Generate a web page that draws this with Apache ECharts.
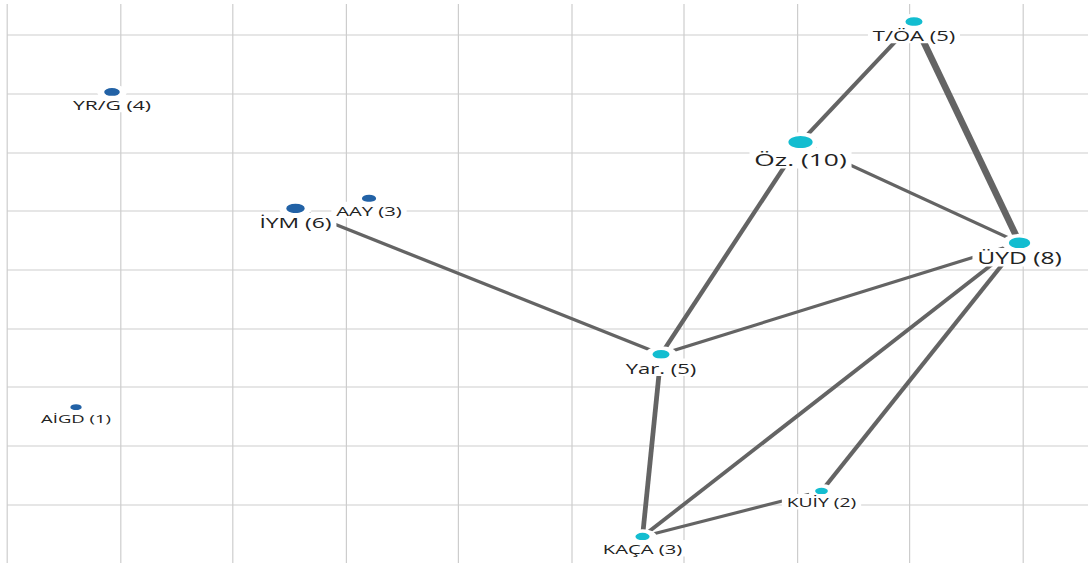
<!DOCTYPE html>
<html>
<head>
<meta charset="utf-8">
<script src="https://cdn.jsdelivr.net/npm/echarts@6/dist/echarts.min.js"></script>
<style>
html, body { margin: 0; padding: 0; background: #ffffff; overflow: hidden; }
#wrap { width: 1088px; height: 563px; overflow: hidden; position: relative; }
#chart { width: 680px; height: 563px; transform: scaleX(1.6); transform-origin: 0 0; }
</style>
</head>
<body>
<div id="wrap"><div id="chart"></div></div>
<script>
// ---- data ----
const nodeNames  = ['T/ÖA', 'Öz.', 'ÜYD', 'Yar.', 'KAÇA', 'KUİY', 'İYM', 'AAY', 'YR/G', 'AİGD'];
const nodeCounts = [5, 10, 8, 5, 3, 2, 6, 3, 4, 1];
const nodeX      = [8.042, 7.036, 8.978, 5.799, 5.635, 7.222, 2.558, 3.210, 0.931, 0.612];
const nodeY      = [9.226, 7.174, 5.455, 3.557, 0.451, 1.226, 6.043, 6.213, 8.026, 2.655];
const nodeGroup  = [0, 0, 0, 0, 0, 0, 1, 1, 1, 1];
const linkSource = ['T/ÖA', 'T/ÖA', 'Öz.', 'Öz.', 'ÜYD', 'ÜYD', 'ÜYD', 'Yar.', 'KAÇA', 'İYM'];
const linkTarget = ['Öz.', 'ÜYD', 'ÜYD', 'Yar.', 'Yar.', 'KAÇA', 'KUİY', 'KAÇA', 'KUİY', 'Yar.'];
const linkWeight = [1, 2, 1, 1, 1, 1, 1, 1, 1, 1];

// ---- styles ----
const groupColors = ['#13bdd0', '#2262a6'];
const ELLIPSE = 'path://M1,0 C1.552,0 2,0.448 2,1 C2,1.552 1.552,2 1,2 C0.448,2 0,1.552 0,1 C0,0.448 0.448,0 1,0 Z';
const HALO = 4;

const chart = echarts.init(document.getElementById('chart'), null, { renderer: 'svg' });

const nodes = nodeNames.map((n, i) => {
  const h = 5 + 0.7 * nodeCounts[i];
  return {
    name: n,
    value: [nodeX[i], nodeY[i]],
    symbol: ELLIPSE,
    symbolKeepAspect: false,
    symbolSize: [h * 1.3 + HALO, h + HALO],
    itemStyle: { color: groupColors[nodeGroup[i]], borderColor: '#ffffff', borderWidth: HALO },
    label: { fontSize: 11 + 0.55 * nodeCounts[i] }
  };
});

const links = linkSource.map((s, i) => ({
  source: s,
  target: linkTarget[i],
  lineStyle: { width: 1.6 + 1.4 * linkWeight[i] }
}));

const option = {
  animation: false,
  backgroundColor: '#ffffff',
  grid: { left: 4.375, right: 0, top: 4, bottom: -0.75, containLabel: false },
  xAxis: {
    type: 'value', min: 0, max: 9.585, interval: 1,
    axisLine: { show: false }, axisTick: { show: false }, axisLabel: { show: false },
    splitLine: { show: true, showMinLine: true, showMaxLine: false, lineStyle: { color: '#cdcdcd', width: 0.75 } }
  },
  yAxis: {
    type: 'value', min: 0, max: 9.528, interval: 1,
    axisLine: { show: false }, axisTick: { show: false }, axisLabel: { show: false },
    splitLine: { show: true, showMinLine: false, showMaxLine: false, lineStyle: { color: '#e6e6e6', width: 2 } }
  },
  series: [{
    type: 'graph',
    coordinateSystem: 'cartesian2d',
    layout: 'none',
    roam: false,
    data: nodes,
    links: links,
    label: {
      show: true,
      position: 'bottom',
      distance: -4,
      padding: [2.5, 3, 1, 3],
      backgroundColor: '#ffffff',
      color: '#222222',
      fontFamily: 'Open Sans',
      formatter: p => p.name + ' (' + nodeCounts[p.dataIndex] + ')'
    },
    lineStyle: { color: '#646464', opacity: 1, curveness: 0 },
    emphasis: { disabled: true }
  }]
};

chart.setOption(option);
</script>
</body>
</html>
